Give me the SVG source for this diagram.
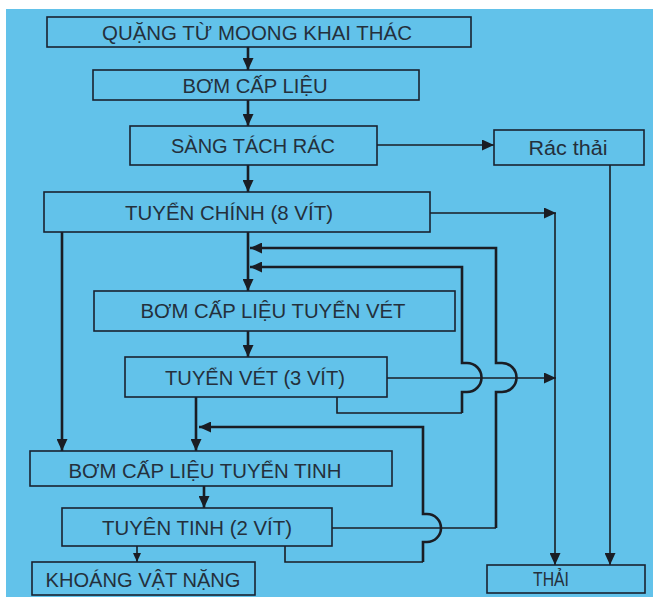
<svg xmlns="http://www.w3.org/2000/svg" width="653" height="597" viewBox="0 0 653 597">
<defs>
<marker id="ah" markerUnits="userSpaceOnUse" markerWidth="12" markerHeight="11" refX="12" refY="5.5" orient="auto"><path d="M0,0 L12,5.5 L0,11 z" fill="#1a1d24"/></marker>
<marker id="ahs" markerUnits="userSpaceOnUse" markerWidth="9" markerHeight="8" refX="9" refY="4" orient="auto"><path d="M0,0 L9,4 L0,8 z" fill="#1a1d24"/></marker>
<style>
.box{fill:#62c2ea;stroke:#1a2230;stroke-width:1.6}
.t{font-family:"Liberation Sans",Arial,sans-serif;font-size:20px;fill:#24303c;text-anchor:middle}
.c{fill:none;stroke:#1a1d24;stroke-width:1.6}
.k{fill:none;stroke:#1a1d24;stroke-width:2.6}
</style>
</defs>
<rect x="0" y="0" width="653" height="597" fill="#ffffff"/>
<rect x="6" y="9" width="647" height="588" fill="#62c2ea"/>
<g id="connectors">
<path class="k" d="M248 47 V70" marker-end="url(#ah)"/>
<path class="k" d="M248 100 V126" marker-end="url(#ah)"/>
<path class="k" d="M248 165 V192" marker-end="url(#ah)"/>
<path class="c" d="M377 145 H494" marker-end="url(#ah)"/>
<path class="k" d="M248 232 V291" marker-end="url(#ah)"/>
<path class="c" d="M430 213 H556" marker-end="url(#ah)"/>
<path class="k" d="M62 232 V451" marker-end="url(#ah)"/>
<path class="c" d="M610 165 V565" marker-end="url(#ah)"/>
<path class="c" d="M555 213 V565" marker-end="url(#ah)"/>
<path class="k" d="M248 331 V357" marker-end="url(#ah)"/>
<path class="c" d="M387 378 H556" marker-end="url(#ah)"/>
<path class="c" d="M337 397 V413 H462" />
<path class="k" d="M462 413 V392 H467 A14.5 14.5 0 0 0 467 363 H462 V267 H250" marker-end="url(#ah)"/>
<path class="c" d="M332 528 H496" />
<path class="k" d="M496 528 V392 H502 A14.5 14.5 0 0 0 502 363 H496 V248 H250" marker-end="url(#ah)"/>
<path class="k" d="M196 397 V451" marker-end="url(#ah)"/>
<path class="c" d="M285 546 V562 H423" />
<path class="k" d="M423 562 V542 H427 A14 14 0 0 0 427 514 H423 V427 H199" marker-end="url(#ah)"/>
<path class="k" d="M204 486 V508" marker-end="url(#ah)"/>
<path class="c" d="M137 546 V562" marker-end="url(#ahs)"/>
</g>
<g id="n1"><rect class="box" x="47" y="17" width="424" height="30"/><text class="t" x="257" y="40" textLength="310" lengthAdjust="spacingAndGlyphs">QUẶNG TỪ MOONG KHAI THÁC</text></g>
<g id="n2"><rect class="box" x="93" y="70" width="326" height="30"/><text class="t" x="255" y="93" font-size="19" textLength="145" lengthAdjust="spacingAndGlyphs">BƠM CẤP LIỆU</text></g>
<g id="n3"><rect class="box" x="130" y="126" width="247" height="39"/><text class="t" x="253" y="153" textLength="164" lengthAdjust="spacingAndGlyphs">SÀNG TÁCH RÁC</text></g>
<g id="n4"><rect class="box" x="494" y="130" width="150" height="35"/><text class="t" x="568" y="155" textLength="79" lengthAdjust="spacingAndGlyphs">Rác thải</text></g>
<g id="n5"><rect class="box" x="44" y="192" width="386" height="40"/><text class="t" x="229" y="220" textLength="208" lengthAdjust="spacingAndGlyphs">TUYỂN CHÍNH (8 VÍT)</text></g>
<g id="n6"><rect class="box" x="94" y="291" width="361" height="40"/><text class="t" x="273" y="318" textLength="265" lengthAdjust="spacingAndGlyphs">BƠM CẤP LIỆU TUYỂN VÉT</text></g>
<g id="n7"><rect class="box" x="125" y="357" width="262" height="40"/><text class="t" x="255" y="385" textLength="180" lengthAdjust="spacingAndGlyphs">TUYỂN VÉT (3 VÍT)</text></g>
<g id="n8"><rect class="box" x="30" y="451" width="362" height="35"/><text class="t" x="205" y="478" textLength="273" lengthAdjust="spacingAndGlyphs">BƠM CẤP LIỆU TUYỂN TINH</text></g>
<g id="n9"><rect class="box" x="62" y="508" width="270" height="38"/><text class="t" x="197" y="535" textLength="190" lengthAdjust="spacingAndGlyphs">TUYÊN TINH (2 VÍT)</text></g>
<g id="n10"><rect class="box" x="32" y="562" width="223" height="33"/><text class="t" x="143" y="587" textLength="195" lengthAdjust="spacingAndGlyphs">KHOÁNG VẬT NẶNG</text></g>
<g id="n11"><rect class="box" x="487" y="565" width="158" height="28"/><text class="t" x="551" y="586" font-size="18" textLength="36" lengthAdjust="spacingAndGlyphs">THẢI</text></g>
</svg>
